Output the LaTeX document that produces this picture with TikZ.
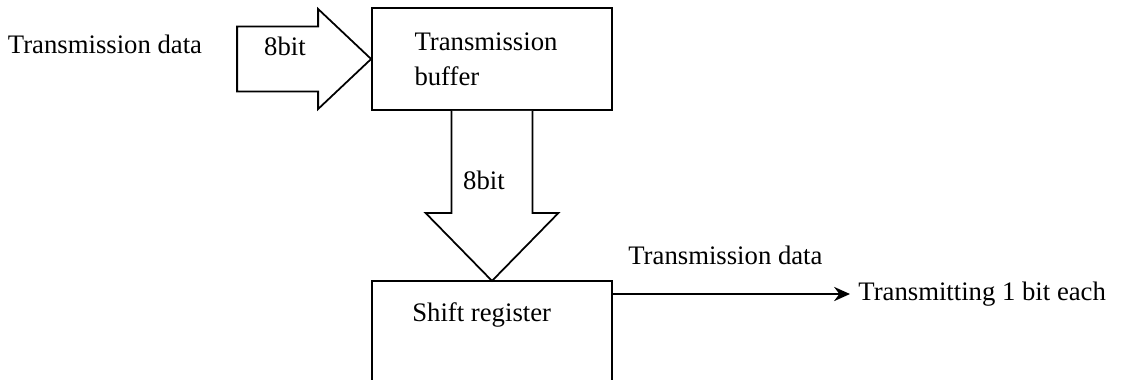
\documentclass[tikz,border=0pt]{standalone}
\usepackage{fontspec}
\setmainfont{Liberation Serif}
\usetikzlibrary{arrows.meta}

\tikzset{
  box/.style={draw, line width=1pt, minimum width=4.8cm, inner sep=0pt},
  fatarrow/.style={draw, fill=white, line width=1pt, line join=miter},
  txt/.style={inner sep=0pt}
}

\begin{document}
\begin{tikzpicture}[font=\fontsize{15.2}{20}\selectfont]

      \useasboundingbox (0,0) rectangle (22.5,-7.58);
      \clip (0,0) rectangle (22.5,-7.58);

      \begin{scope}[every node/.style={box}]
        \node[minimum height=2.04cm, text width=3.1cm, align=left, inner xsep=0.85cm] (buf) at (9.84,-1.18) {Transmission\\buffer};
        \node[minimum height=2.4cm, anchor=north] (sr) at (9.84,-5.6) {};
      \end{scope}

      % block arrows
      \draw[fatarrow, shift={(buf.west)}] (-2.68,0.65) -- (-1.06,0.65) -- (-1.06,1.0) -- (0,0)
        -- (-1.06,-1.0) -- (-1.06,-0.65) -- (-2.68,-0.65) -- cycle;
      \draw[fatarrow, shift={(buf.south)}] (-0.81,0) -- (-0.81,-2.04) -- (-1.33,-2.04) -- (0,-3.4)
        -- (1.33,-2.04) -- (0.81,-2.04) -- (0.81,0);

      \begin{scope}[every node/.style={txt}]
        \node (in)     at (2.1,-0.88)  {Transmission data};
        \node (bitin)  at (5.7,-0.92)  {8bit};
        \node (bitdn)  at (9.68,-3.6)  {8bit};
        \node[anchor=west] (srlabel) at (8.24,-6.3) {Shift register};
        \node[anchor=west] (data)    at (12.56,-5.1) {Transmission data};
        \node[anchor=west] (out)     at (17.16,-5.88) {Transmitting 1 bit each};
      \end{scope}

      \path (sr.east |- out.west) edge[line width=1.6pt, shorten >=0.16cm, -{Stealth[length=9pt,width=8pt]}] (out.west);

    \end{tikzpicture}
\end{document}
